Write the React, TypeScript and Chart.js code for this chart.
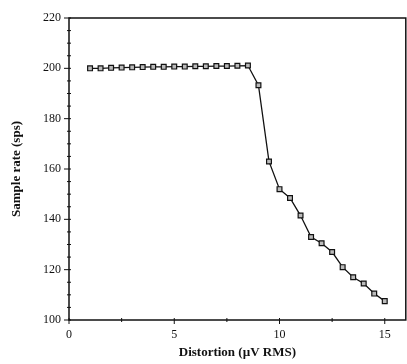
import React, { useEffect, useRef } from "react";
import { Chart, registerables } from "chart.js";

Chart.register(...registerables);

const distortion = [1, 1.5, 2, 2.5, 3, 3.5, 4, 4.5, 5, 5.5, 6, 6.5, 7, 7.5, 8, 8.5, 9, 9.5, 10, 10.5, 11, 11.5, 12, 12.5, 13, 13.5, 14, 14.5, 15];
const sampleRate = [200, 200, 200.2, 200.3, 200.4, 200.5, 200.6, 200.6, 200.7, 200.7, 200.8, 200.8, 200.9, 200.9, 201, 201.1, 193.3, 163, 152, 148.5, 141.5, 133, 130.5, 127, 121, 117, 114.5, 110.5, 107.5];
const xTicks = [0, 5, 10, 15];
const yTicks = [100, 120, 140, 160, 180, 200, 220];

const FONT = "'Liberation Serif', 'Times New Roman', serif";

const framePlugin = {
  id: "frame",
  afterDatasetsDraw(chart: any) {
    const { ctx, chartArea, scales } = chart;
    const { left, right, top, bottom } = chartArea;
    ctx.save();
    ctx.strokeStyle = "#111";
    ctx.lineWidth = 1.5;
    ctx.strokeRect(left, top, right - left, bottom - top);
    ctx.lineWidth = 1;
    for (let v = 100; v <= 220; v += 5) {
      const y = scales.y.getPixelForValue(v);
      const major = v % 20 === 0;
      ctx.beginPath();
      ctx.moveTo(left - (major ? 5 : 2), y);
      ctx.lineTo(left + 2, y);
      ctx.stroke();
    }
    for (let v = 0; v <= 15; v += 2.5) {
      const x = scales.x.getPixelForValue(v);
      const major = v % 5 === 0;
      ctx.beginPath();
      ctx.moveTo(x, bottom - 2);
      ctx.lineTo(x, bottom + (major ? 4 : 2));
      ctx.stroke();
    }
    ctx.restore();
  },
};

export default function App() {
  const ref = useRef<HTMLCanvasElement>(null);
  useEffect(() => {
    if (!ref.current) return;
    const chart = new Chart(ref.current, {
      type: "line",
      data: {
        datasets: [
          {
            data: distortion.map((x, i) => ({ x, y: sampleRate[i] })),
            borderColor: "#111",
            borderWidth: 1.3,
            pointStyle: "rect",
            pointRadius: 3.4,
            pointBackgroundColor: "#bbb",
            pointBorderColor: "#111",
            pointBorderWidth: 1.2,
            tension: 0,
          },
        ],
      },
      options: {
        responsive: false,
        animation: false,
        layout: { padding: { top: 18, right: 0, left: 0, bottom: 0 } },
        plugins: { legend: { display: false }, tooltip: { enabled: false } },
        scales: {
          x: {
            type: "linear",
            min: 0,
            max: 16,
            afterBuildTicks: (s: any) => {
              s.ticks = xTicks.map((v) => ({ value: v }));
            },
            afterFit: (s: any) => {
              s.height = 44;
            },
            grid: { display: false, drawTicks: false },
            border: { display: false },
            ticks: {
              color: "#111",
              font: { family: FONT, size: 12 },
              padding: 8,
              maxRotation: 0,
            },
            title: {
              display: true,
              text: "Distortion (\u00b5V RMS)",
              color: "#111",
              font: { family: FONT, size: 13, weight: "bold" },
              padding: { top: 4, bottom: 4 },
            },
          },
          y: {
            min: 100,
            max: 220,
            afterBuildTicks: (s: any) => {
              s.ticks = yTicks.map((v) => ({ value: v }));
            },
            afterFit: (s: any) => {
              s.width = 69;
            },
            grid: { display: false, drawTicks: false },
            border: { display: false },
            ticks: {
              color: "#111",
              font: { family: FONT, size: 12 },
              padding: 8,
            },
            title: {
              display: true,
              text: "Sample rate (sps)",
              color: "#111",
              font: { family: FONT, size: 13, weight: "bold" },
              padding: { top: 9, bottom: 14 },
            },
          },
        },
      },
      plugins: [framePlugin],
    });
    return () => chart.destroy();
  }, []);
  return (
    <div style={{ position: "fixed", left: 0, top: 0, width: 407, height: 364, overflow: "hidden", background: "#fff" }}>
      <canvas ref={ref} width={411} height={364} style={{ display: "block" }} />
    </div>
  );
}
